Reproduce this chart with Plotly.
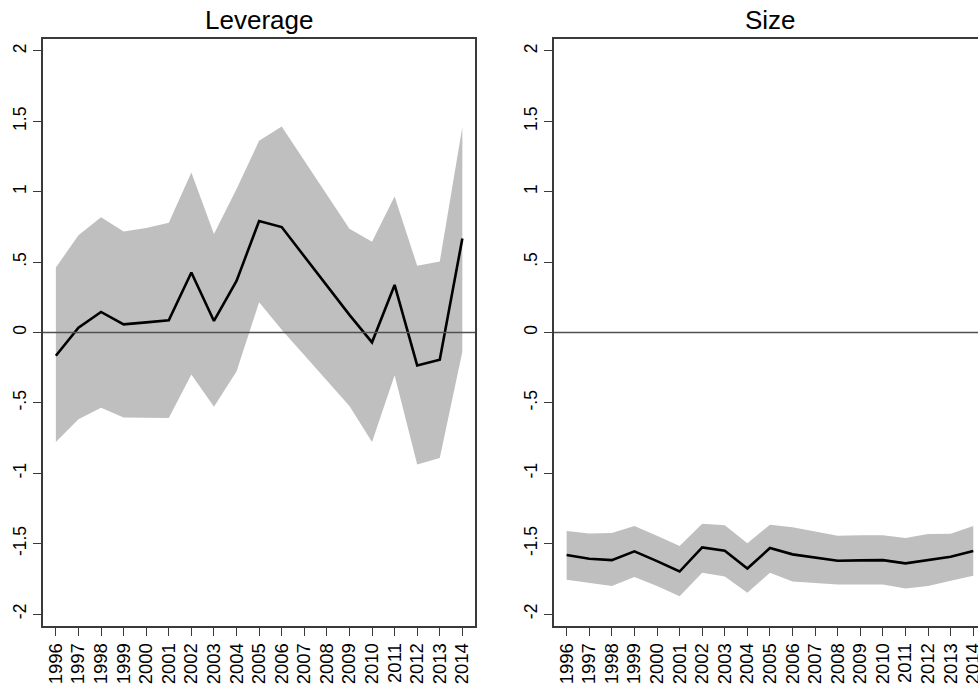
import plotly.graph_objects as go

years = list(range(1996, 2015))

# Leverage panel
lev_coef = [-0.165, 0.034, 0.146, 0.058, 0.072, 0.087, 0.426, 0.082, 0.367, 0.792,
            0.749, 0.541, 0.333, 0.125, -0.070, 0.338, -0.234, -0.194, 0.668]
lev_upper = [0.462, 0.690, 0.818, 0.718, 0.742, 0.780, 1.136, 0.699, 1.020, 1.362,
             1.464, 1.222, 0.979, 0.737, 0.645, 0.967, 0.474, 0.504, 1.459]
lev_lower = [-0.778, -0.616, -0.535, -0.604, -0.606, -0.607, -0.298, -0.528, -0.277, 0.215,
             0.020, -0.161, -0.342, -0.523, -0.778, -0.303, -0.937, -0.892, -0.137]

# Size panel
size_coef = [-1.581, -1.607, -1.617, -1.555, -1.624, -1.698, -1.527, -1.550, -1.676, -1.531,
             -1.576, -1.598, -1.621, -1.619, -1.617, -1.640, -1.617, -1.593, -1.553]
size_upper = [-1.410, -1.427, -1.424, -1.374, -1.443, -1.517, -1.358, -1.370, -1.498, -1.365,
              -1.384, -1.413, -1.443, -1.441, -1.441, -1.460, -1.432, -1.429, -1.374]
size_lower = [-1.757, -1.778, -1.801, -1.737, -1.801, -1.873, -1.707, -1.733, -1.849, -1.707,
              -1.769, -1.780, -1.790, -1.790, -1.790, -1.818, -1.801, -1.764, -1.728]

panel_titles = ["Leverage", "Size"]
y_tickvals = [-2, -1.5, -1, -0.5, 0, 0.5, 1, 1.5, 2]
y_ticktext = ["-2", "-1.5", "-1", "-.5", "0", ".5", "1", "1.5", "2"]

W, H = 978, 686
FILL = "#bfbfbf"
FRAME = "#3a3a3a"
FONT = "Liberation Sans, Arial, sans-serif"

fig = go.Figure()

panels = [
    ("x", "y", lev_upper, lev_lower, lev_coef),
    ("x2", "y2", size_upper, size_lower, size_coef),
]
for xa, ya, up, lo, coef in panels:
    fig.add_trace(go.Scatter(x=years, y=lo, xaxis=xa, yaxis=ya, mode="lines",
                             line=dict(width=0, color=FILL), showlegend=False, hoverinfo="skip"))
    fig.add_trace(go.Scatter(x=years, y=up, xaxis=xa, yaxis=ya, mode="lines",
                             line=dict(width=0, color=FILL), fill="tonexty",
                             fillcolor=FILL, showlegend=False, hoverinfo="skip"))
    fig.add_trace(go.Scatter(x=years, y=coef, xaxis=xa, yaxis=ya, mode="lines",
                             line=dict(width=2.6, color="black"), showlegend=False))

top_px, bot_px = 39, 626
ydom = [1 - bot_px / H, 1 - top_px / H]
x1dom = [43 / W, 475 / W]
x2dom = [554 / W, 1.0]

common_x = dict(tickmode="array", tickvals=years, ticktext=[str(v) for v in years],
                tickangle=-90, ticks="outside", ticklen=8, tickwidth=1.3, tickcolor=FRAME,
                showline=True, linecolor=FRAME, linewidth=1.5, showgrid=False,
                zeroline=False, automargin=False, ticklabeloverflow="allow",
                tickfont=dict(family=FONT, size=18.5, color="black"))
common_y = dict(tickmode="array", tickvals=y_tickvals, ticktext=y_ticktext,
                tickangle=-90, ticks="outside", ticklen=8, tickwidth=1.3, tickcolor=FRAME,
                showline=True, linecolor=FRAME, linewidth=1.5, showgrid=False,
                zeroline=False, automargin=False, range=[-2.085, 2.085],
                ticklabeloverflow="allow",
                tickfont=dict(family=FONT, size=17.5, color="black"))

fig.update_layout(
    width=W, height=H,
    margin=dict(l=0, r=0, t=0, b=0),
    plot_bgcolor="white", paper_bgcolor="white",
    xaxis=dict(domain=x1dom, range=[1995.43, 2014.56], mirror=True, anchor="y", **common_x),
    yaxis=dict(domain=ydom, mirror=True, anchor="x", **common_y),
    xaxis2=dict(domain=x2dom, range=[1995.44, 2014.21], mirror=True, anchor="y2", **common_x),
    yaxis2=dict(domain=ydom, mirror=False, anchor="x2", **common_y),
)

for xa in ["x", "x2"]:
    ya = "y" if xa == "x" else "y2"
    fig.add_shape(type="line", xref=f"{xa} domain", x0=0, x1=1, yref=ya, y0=0, y1=0,
                  line=dict(color="#505050", width=1.5), layer="above")

for i, t in enumerate(panel_titles):
    cx = (x1dom[0] + x1dom[1]) / 2 if i == 0 else (554 + 986) / 2 / W
    fig.add_annotation(text=t, xref="paper", x=cx, yref="paper", y=1 - 20 / H,
                       xanchor="center", yanchor="middle", showarrow=False,
                       font=dict(family=FONT, size=26, color="black"))

fig.write_html("out.html")
